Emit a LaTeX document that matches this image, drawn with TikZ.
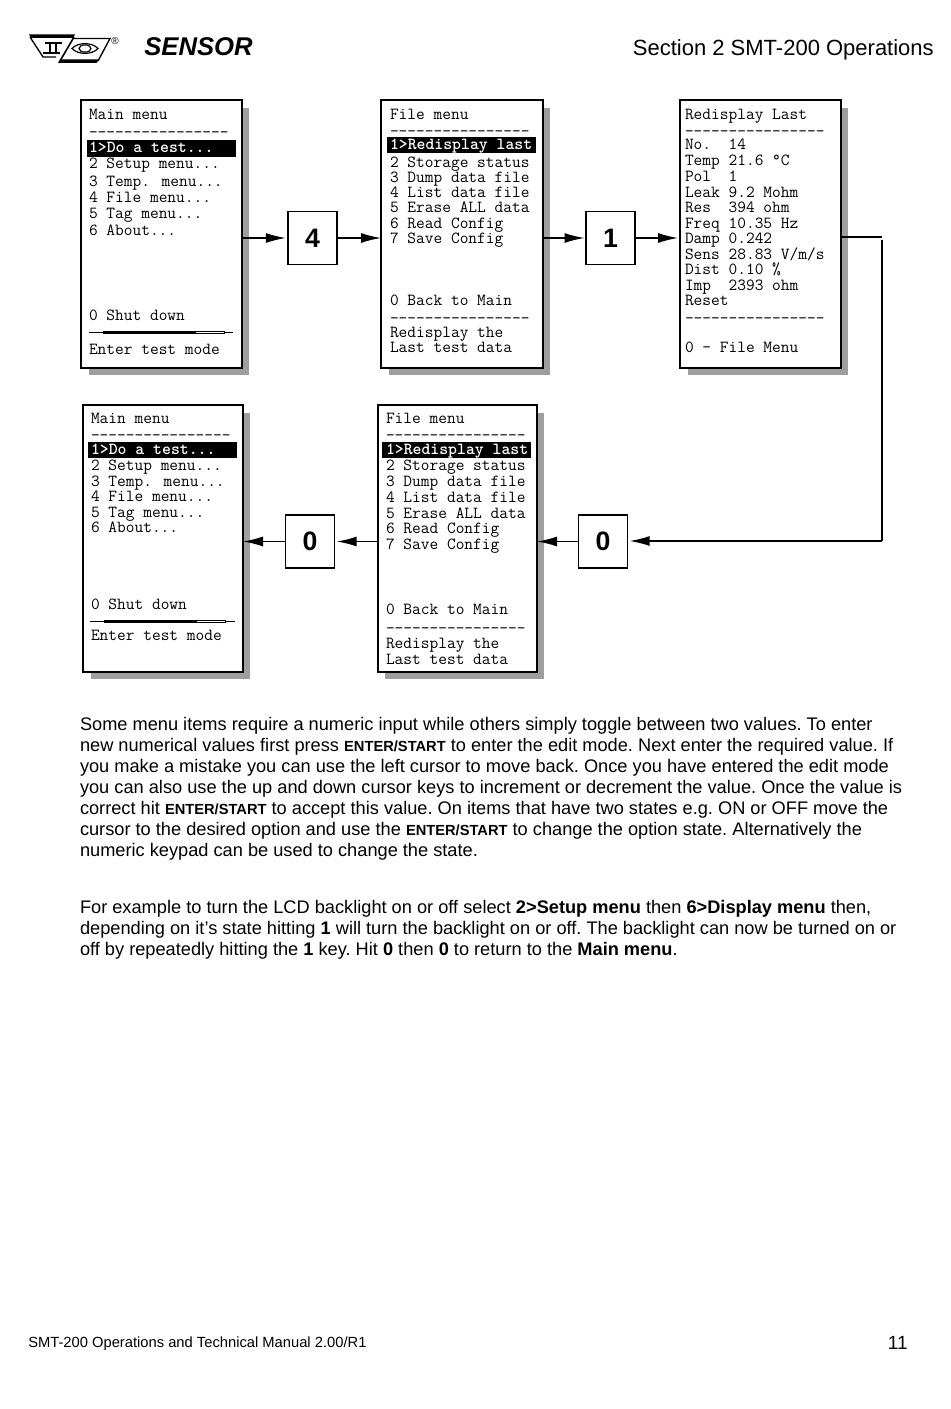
\documentclass[tikz,border=0pt]{standalone}
\usepackage{fontspec}
\setmainfont{Liberation Sans}
\usetikzlibrary{arrows.meta}
\newcount\tn
\newcommand{\ml}[3]{\global\advance\tn by 1 \node[menutext,name=t\the\tn] at (#1,#2) {#3};}
\newcommand{\hl}[3]{\global\advance\tn by 1 \node[hltext,name=t\the\tn] at (#1,#2) {#3};}
\newcommand{\bl}[2]{\global\advance\tn by 1 \node[bodytext,name=t\the\tn] at (80,#1) {#2};}
\newcommand{\ES}{{\fontsize{11pt}{14pt}\selectfont\bfseries ENTER/START}}
\tikzset{
 x=0.75pt,y=-0.75pt,
 menutext/.style={anchor=base west,inner sep=0pt,outer sep=0pt,font=\ttfamily\fontsize{12.7pt}{14pt}\selectfont},
 hltext/.style={menutext,text=white,font=\ttfamily\bfseries\fontsize{12.7pt}{14pt}\selectfont},
 bodytext/.style={anchor=base west,inner sep=0pt,outer sep=0pt,font=\fontsize{13.66pt}{16pt}\selectfont\frenchspacing},
 menubox/.style={draw=black,line width=1.1pt,fill=white,inner sep=0pt,outer sep=0pt},
 keybox/.style={draw=black,line width=1.1pt,fill=white,inner sep=0pt,outer sep=0pt,minimum width=37pt,minimum height=39.5pt,font=\bfseries\fontsize{20pt}{22pt}\selectfont},
 arr/.style={draw=black,line width=1.1pt,-{Latex[length=15pt,width=7.5pt]}},
 plainline/.style={draw=black,line width=1.1pt},
 shadowc/.style={fill=black!38},
}
\begin{document}
\begin{tikzpicture}
\useasboundingbox (0,0) rectangle (950,1409);
% shadows
\fill[shadowc] (89,108) rectangle (249,375);
\fill[shadowc] (389,108) rectangle (550,375);
\fill[shadowc] (688,108) rectangle (848,375);
\fill[shadowc] (91,413) rectangle (250,679);
\fill[shadowc] (385,413) rectangle (544,679);
% boxes
\node[menubox,minimum width=120.75pt,minimum height=201pt] (m1) at (161.5,234) {};
\node[menubox,minimum width=121.5pt,minimum height=201pt] (m2) at (462,234) {};
\node[menubox,minimum width=120.75pt,minimum height=201pt] (m3) at (760.5,234) {};
\node[menubox,minimum width=120pt,minimum height=200.25pt] (m4) at (163,538.5) {};
\node[menubox,minimum width=119.25pt,minimum height=200.25pt] (m5) at (457.5,538.5) {};
\node[keybox] (k4) at (312.5,238) {4};
\node[keybox] (k1) at (610.5,238) {1};
\node[keybox] (k0b) at (603,541.5) {0};
\node[keybox] (k0a) at (310,541.5) {0};
% highlight bars
\fill[black] (87,140) rectangle (236,157);
\fill[black] (387,137) rectangle (536,153);
\fill[black] (88,442) rectangle (237,458);
\fill[black] (382,442) rectangle (531,458);
% menu 1
\ml{89}{120}{Main menu}
\ml{89}{138}{----------------}
\hl{89}{152}{1>Do a test...}
\ml{89}{169}{2 Setup menu...}
\ml{89}{186}{3 Temp. menu...}
\ml{89}{202}{4 File menu...}
\ml{89}{218}{5 Tag menu...}
\ml{89}{235}{6 About...}
\ml{89}{320}{0 Shut down}
\ml{89}{354}{Enter test mode}
\draw[line width=0.7pt] (89,332.5) -- (233,332.5);
\draw[line width=2pt] (103,332.5) -- (195,332.5);
\draw[line width=0.5pt,fill=white] (195,331.3) rectangle (224,333.7);
% menu 2
\ml{390}{120}{File menu}
\ml{390}{137}{----------------}
\hl{390}{150}{1>Redisplay last}
\ml{390}{167}{2 Storage status}
\ml{390}{182}{3 Dump data file}
\ml{390}{197}{4 List data file}
\ml{390}{212}{5 Erase ALL data}
\ml{390}{228}{6 Read Config}
\ml{390}{243}{7 Save Config}
\ml{390}{305}{0 Back to Main}
\ml{390}{323}{----------------}
\ml{390}{337}{Redisplay the}
\ml{390}{352}{Last test data}
% menu 3
\ml{685}{120}{Redisplay Last}
\ml{685}{137}{----------------}
\ml{685}{150}{No.~~14}
\ml{685}{166}{Temp 21.6 °C}
\ml{685}{181}{Pol~~1}
\ml{685}{197}{Leak 9.2 Mohm}
\ml{685}{212}{Res~~394 ohm}
\ml{685}{228}{Freq 10.35 Hz}
\ml{685}{243}{Damp 0.242}
\ml{685}{259}{Sens 28.83 V/m/s}
\ml{685}{274}{Dist 0.10 \%}
\ml{685}{290}{Imp~~2393 ohm}
\ml{685}{305}{Reset}
\ml{685}{323}{----------------}
\ml{685}{352}{0 - File Menu}
% menu 4
\ml{91}{423}{Main menu}
\ml{91}{440}{----------------}
\hl{91}{454}{1>Do a test...}
\ml{91}{470}{2 Setup menu...}
\ml{91}{486}{3 Temp. menu...}
\ml{91}{501}{4 File menu...}
\ml{91}{517}{5 Tag menu...}
\ml{91}{532}{6 About...}
\ml{91}{609}{0 Shut down}
\ml{91}{640}{Enter test mode}
\draw[line width=0.7pt] (90,621.5) -- (235,621.5);
\draw[line width=2pt] (104,621.5) -- (196,621.5);
\draw[line width=0.5pt,fill=white] (196,620.3) rectangle (225,622.7);
% menu 5
\ml{386}{423}{File menu}
\ml{386}{440}{----------------}
\hl{386}{454}{1>Redisplay last}
\ml{386}{470}{2 Storage status}
\ml{386}{486}{3 Dump data file}
\ml{386}{502}{4 List data file}
\ml{386}{518}{5 Erase ALL data}
\ml{386}{533}{6 Read Config}
\ml{386}{549}{7 Save Config}
\ml{386}{614}{0 Back to Main}
\ml{386}{633}{----------------}
\ml{386}{648}{Redisplay the}
\ml{386}{664}{Last test data}
% connectors
\draw[arr] (m1.east |- k4.west) -- ([xshift=-1.5pt]k4.west);
\draw[arr] (k4.east) -- (m2.west |- k4.east);
\draw[arr] (m2.east |- k1.west) -- ([xshift=-1pt]k1.west);
\draw[arr] (k1.east) -- ([xshift=-1.5pt]m3.west |- k1.east);
\coordinate (bend1) at (882,237);
\coordinate (bend2) at (882,240);
\coordinate (bend3) at (882,541);
\draw[plainline] (m3.east |- bend1) -- (bend1);
\draw[plainline] (bend2) -- (bend3);
\draw[arr] (bend3) -- ([xshift=1.5pt]k0b.east |- bend3);
\draw[arr] (k0b.west) -- (m5.east |- k0b.west);
\draw[arr] (m5.west |- k0a.east) -- ([xshift=1.5pt]k0a.east);
\draw[arr] (k0a.west) -- (m4.east |- k0a.west);
% header
\node[anchor=base west,inner sep=0pt,name=sensor,font=\bfseries\itshape\fontsize{19.25pt}{24pt}\selectfont] at (144,56) {SENSOR};
\node[anchor=base east,inner sep=0pt,name=section,font=\fontsize{16.5pt}{20pt}\selectfont] at (934,56) {Section 2 SMT-200 Operations};
% logo
\draw[line width=1pt] (30,37) -- (43,57) -- (56,57);
\fill (29,34.5) -- (75,34.5) -- (73,38) -- (31,38) -- cycle;
\draw[line width=1.2pt] (74,37) -- (60,61);
\draw[line width=1pt] (73,38.5) -- (110,38.5) -- (98,61);
\fill (60,59.5) -- (99,59.5) -- (96.5,63) -- (58,63) -- cycle;
\draw[line width=0.9pt] (72,48.5) .. controls (78,42) and (92,42) .. (98,48.5) .. controls (92,55) and (78,55) .. cycle;
\draw[line width=0.9pt] (85,48.5) ellipse [x radius=6,y radius=3.6];
\draw[line width=1pt] (45,43) -- (62,43) (50,43) -- (50,53) (56,43) -- (56,53) (43,53) -- (60,53);
\node[inner sep=0pt,name=reg,font=\fontsize{7.5pt}{8pt}\selectfont] at (115,41.5) {®};
% body
\bl{730}{Some menu items require a numeric input while others simply toggle between two values. To enter}
\bl{751}{new numerical values first press \ES{} to enter the edit mode. Next enter the required value. If}
\bl{772}{you make a mistake you can use the left cursor to move back. Once you have entered the edit mode}
\bl{793}{you can also use the up and down cursor keys to increment or decrement the value. Once the value is}
\bl{814}{correct hit \ES{} to accept this value. On items that have two states e.g. ON or OFF move the}
\bl{835}{cursor to the desired option and use the \ES{} to change the option state. Alternatively the}
\bl{856}{numeric keypad can be used to change the state.}
\bl{913}{For example to turn the LCD backlight on or off select \textbf{2>Setup menu} then \textbf{6>Display menu} then,}
\bl{934}{depending on it’s state hitting \textbf{1} will turn the backlight on or off. The backlight can now be turned on or}
\bl{955}{off by repeatedly hitting the \textbf{1} key. Hit \textbf{0} then \textbf{0} to return to the \textbf{Main menu}.}
% footer
\node[anchor=base west,inner sep=0pt,name=foot,font=\fontsize{11.05pt}{14pt}\selectfont] at (28,1347) {SMT-200 Operations and Technical Manual 2.00/R1};
\node[anchor=base east,inner sep=0pt,name=pagen,font=\fontsize{14.3pt}{16pt}\selectfont] at (908,1349) {11};
\end{tikzpicture}
\end{document}
